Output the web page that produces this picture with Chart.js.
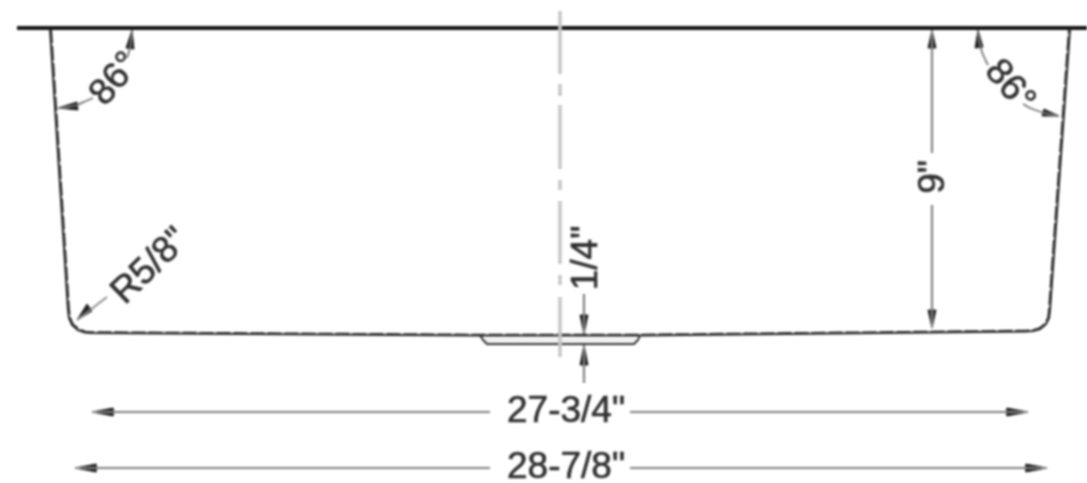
<!DOCTYPE html>
<html>
<head>
<meta charset="utf-8">
<title>Sink profile</title>
<script src="https://cdn.jsdelivr.net/npm/chart.js@4"></script>
<style>
  html, body { margin: 0; padding: 0; background: #fff; overflow: hidden; }
  #myChart { display: block; filter: blur(0.8px); }
</style>
</head>
<body>
<canvas id="myChart" width="1087" height="483"></canvas>
<script>
// all values, in picture units (x right, y down)
var rimLine = [[17, 28], [1087, 28]];
var sinkOutline = [[50, 29], [68, 310], [69, 318], [72, 325], [78, 330], [85, 332.5], [92, 333], [480, 335.5], [638, 335.5], [1025, 331.5], [1033, 331], [1040, 329], [1046, 324], [1049, 318], [1050, 310], [1070, 29]];
var sinkInner = [[51.2, 29], [69.2, 310], [70.2, 317.5], [73, 324], [78.8, 329], [85.5, 331.5], [92, 332], [480, 334.5], [638, 334.5], [1025, 330.5], [1033, 330], [1039.5, 328], [1045, 323.5], [1048, 317.5], [1048.8, 310], [1068.8, 29]];
var drainLine = [[480, 335], [483, 340], [487, 344], [634, 344], [638, 340], [640, 335]];
var drainInner = [[484, 340], [636, 340]];
var centerDashes = [[560, 11], [560, 74], [560, null], [560, 84], [560, 96], [560, null], [560, 105], [560, 169], [560, null], [560, 180], [560, 190], [560, null], [560, 201], [560, 264], [560, null], [560, 275], [560, 285], [560, null], [560, 297], [560, 357]];

var dimLines = [
  [[92, 412], [490, 412]],
  [[630, 412], [1028, 412]],
  [[75, 468], [490, 468]],
  [[630, 468], [1047, 468]],
  [[932, 30], [932, 153]],
  [[932, 205], [932, 328]],
  [[584, 294], [584, 334]],
  [[584, 345], [584, 383]]
];
var angleArcs = [
  [[58, 108], [68, 107], [77, 105], [86, 101], [93, 98]],
  [[132, 30], [131, 40], [130, 48], [127, 58]],
  [[978, 30], [979, 40], [981, 49], [984, 57], [988, 65]],
  [[1059, 116], [1048, 114], [1038, 111], [1030, 108], [1023, 104]]
];
var arrowHeads = [
  [[92, 412], [113, 408], [113, 416]],
  [[1028, 412], [1007, 408], [1007, 416]],
  [[75, 468], [96, 464], [96, 472]],
  [[1047, 468], [1026, 464], [1026, 472]],
  [[932, 30], [928, 48], [936, 48]],
  [[932, 328], [928, 310], [936, 310]],
  [[584, 334], [580, 315], [588, 315]],
  [[584, 345], [580, 365], [588, 365]],
  [[58, 108], [77, 102], [78, 110]],
  [[132, 30], [126, 48], [134, 49]],
  [[978, 30], [975, 48], [983, 47]],
  [[1059, 116], [1044, 109], [1042, 116]],
  [[77, 320], [92, 311], [87, 304]]
];
var radiusLeader = [[77, 320], [107, 297]];

var labelTexts = ["86°", "86°", "R5/8\"", "1/4\"", "9\"", "27-3/4\"", "28-7/8\""];
var labelX = [114, 1011, 149, 585, 932, 566, 566];
var labelY = [78, 85, 265, 258, 177, 410, 466];
var labelAngles = [-50, 50, -44, -90, -90, 0, 0];

var toPoints = function (list) {
  return list.map(function (p) { return {x: p[0], y: p[1]}; });
};

var lineSet = function (list, color, width, extra) {
  return Object.assign({
    data: toPoints(list),
    showLine: true,
    borderColor: color,
    borderWidth: width,
    pointRadius: 0,
    fill: false,
    spanGaps: false
  }, extra || {});
};

var datasets = [
  lineSet(centerDashes, "#c6c6c6", 3.5),
  lineSet(sinkOutline, "#262626", 2),
  lineSet(sinkInner, "#2e2e2e", 1.6, {borderDash: [14, 3]}),
  lineSet(drainLine, "#2e2e2e", 2),
  lineSet(drainInner, "#d2d2d2", 1),
  lineSet(rimLine, "#141414", 4),
  lineSet(radiusLeader, "#8a8a8a", 1.8)
];
dimLines.forEach(function (d) { datasets.push(lineSet(d, "#808080", 2.2)); });
angleArcs.forEach(function (d) { datasets.push(lineSet(d, "#777777", 1.8, {tension: 0.3})); });
arrowHeads.forEach(function (d) {
  datasets.push(lineSet(d.concat([d[0]]), "#222222", 1, {fill: "shape", backgroundColor: "#222222"}));
});

var labelPlugin = {
  id: "dimLabels",
  afterDatasetsDraw: function (chart) {
    var ctx = chart.ctx;
    labelTexts.forEach(function (t, i) {
      ctx.save();
      ctx.translate(chart.scales.x.getPixelForValue(labelX[i]), chart.scales.y.getPixelForValue(labelY[i]));
      ctx.rotate(labelAngles[i] * Math.PI / 180);
      ctx.font = "37px 'Liberation Sans'";
      ctx.fillStyle = "#2f2f2f";
      ctx.strokeStyle = "#2f2f2f";
      ctx.lineWidth = 0.6;
      ctx.textAlign = "center";
      ctx.textBaseline = "middle";
      ctx.fillText(t, 0, 2);
      ctx.strokeText(t, 0, 2);
      ctx.restore();
    });
  }
};

new Chart("myChart", {
  type: "scatter",
  data: {datasets: datasets},
  plugins: [labelPlugin],
  options: {
    responsive: false,
    animation: false,
    layout: {padding: 0},
    plugins: {legend: {display: false}, tooltip: {enabled: false}, title: {display: false}},
    scales: {
      x: {type: "linear", min: 0, max: 1087, display: false},
      y: {type: "linear", min: 0, max: 483, reverse: true, display: false}
    }
  }
});
</script>
</body>
</html>
